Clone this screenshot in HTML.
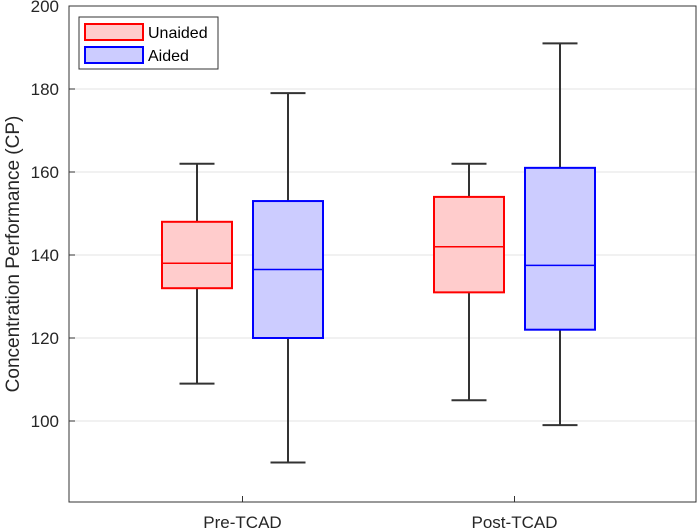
<!DOCTYPE html>
<html><head><meta charset="utf-8"><style>
html,body{margin:0;padding:0;background:#fff;}
svg{display:block;font-family:"Liberation Sans",Arial,sans-serif;}
</style></head><body>
<svg id="chart" width="699" height="532" viewBox="0 0 699 532"></svg>
<script>
const categories = ["Pre-TCAD", "Post-TCAD"];
const seriesNames = ["Unaided", "Aided"];
const unaidedStats = [[109,132,138,148,162],[105,131,142,154,162]];
const aidedStats = [[90,120,136.5,153,179],[99,122,137.5,161,191]];
const yTicks = [100,120,140,160,180,200];

const NS="http://www.w3.org/2000/svg";
const svg=document.getElementById('chart');
const L=69,R=696,T=6,B=502;
function y(v){return 421-(v-100)*4.15;}
function x(c){return 242.5+(c-1)*272;}
function mk(tag,attrs,parent){const e=document.createElementNS(NS,tag);for(const k in attrs)e.setAttribute(k,attrs[k]);(parent||svg).appendChild(e);return e;}

yTicks.forEach(t=>{
  const g=mk('line',{x1:L,x2:R,y1:y(t),y2:y(t),stroke:'#e3e3e3','stroke-width':1});
  
  
  const tk=mk('line',{x1:L,x2:L+6,y1:y(t),y2:y(t),stroke:'#333','stroke-width':1});
  
  
  const lb=mk('text',{x:L-10,y:y(t)+6,'text-anchor':'end','font-size':17,fill:'#262626'});
  lb.textContent=t;
  
  
});
categories.forEach((c,i)=>{
  const tk=mk('line',{x1:x(i+1),x2:x(i+1),y1:B,y2:B-6,stroke:'#333','stroke-width':1});
  
  
  const lb=mk('text',{x:x(i+1),y:528,'text-anchor':'middle','font-size':17,fill:'#262626'});
  lb.textContent=c;
  
  
});

const off=45.5, bw=70, cap=35;
function drawBox(s,cx,fill,stroke,name){
  const g=mk('g',{});
  
  
  mk('line',{x1:cx,x2:cx,y1:y(s[0]),y2:y(s[1]),stroke:'#333','stroke-width':2},g);
  mk('line',{x1:cx,x2:cx,y1:y(s[3]),y2:y(s[4]),stroke:'#333','stroke-width':2},g);
  mk('line',{x1:cx-cap/2,x2:cx+cap/2,y1:y(s[0]),y2:y(s[0]),stroke:'#333','stroke-width':2},g);
  mk('line',{x1:cx-cap/2,x2:cx+cap/2,y1:y(s[4]),y2:y(s[4]),stroke:'#333','stroke-width':2},g);
  mk('rect',{x:cx-bw/2,y:y(s[3]),width:bw,height:y(s[1])-y(s[3]),fill:fill,stroke:stroke,'stroke-width':2},g);
  mk('line',{x1:cx-bw/2,x2:cx+bw/2,y1:y(s[2]),y2:y(s[2]),stroke:stroke,'stroke-width':1.5},g);
}
categories.forEach((c,i)=>{
  drawBox(unaidedStats[i],x(i+1)-off,'#ffcccc','#ff0000','box-unaided-'+c);
  drawBox(aidedStats[i],x(i+1)+off,'#ccccff','#0000ff','box-aided-'+c);
});

const fr=mk('rect',{x:L,y:T,width:R-L,height:B-T,fill:'none',stroke:'#333','stroke-width':1});



const yl=mk('text',{x:0,y:0,transform:'translate(19,254) rotate(-90)','text-anchor':'middle','font-size':19,fill:'#262626'});
yl.textContent='Concentration Performance (CP)';



const lg=mk('g',{});


mk('rect',{x:79,y:17,width:139,height:52,fill:'#fff',stroke:'#333','stroke-width':1},lg);
const cols=[['#ffcccc','#ff0000'],['#ccccff','#0000ff']];
seriesNames.forEach((n,i)=>{
  const e=mk('g',{},lg);
  
  
  mk('rect',{x:85,y:24+i*23,width:58,height:16,fill:cols[i][0],stroke:cols[i][1],'stroke-width':2},e);
  const t=mk('text',{x:148,y:38+i*23,'font-size':16,fill:'#000'},e);
  t.textContent=n;
});
</script>
</body></html>
